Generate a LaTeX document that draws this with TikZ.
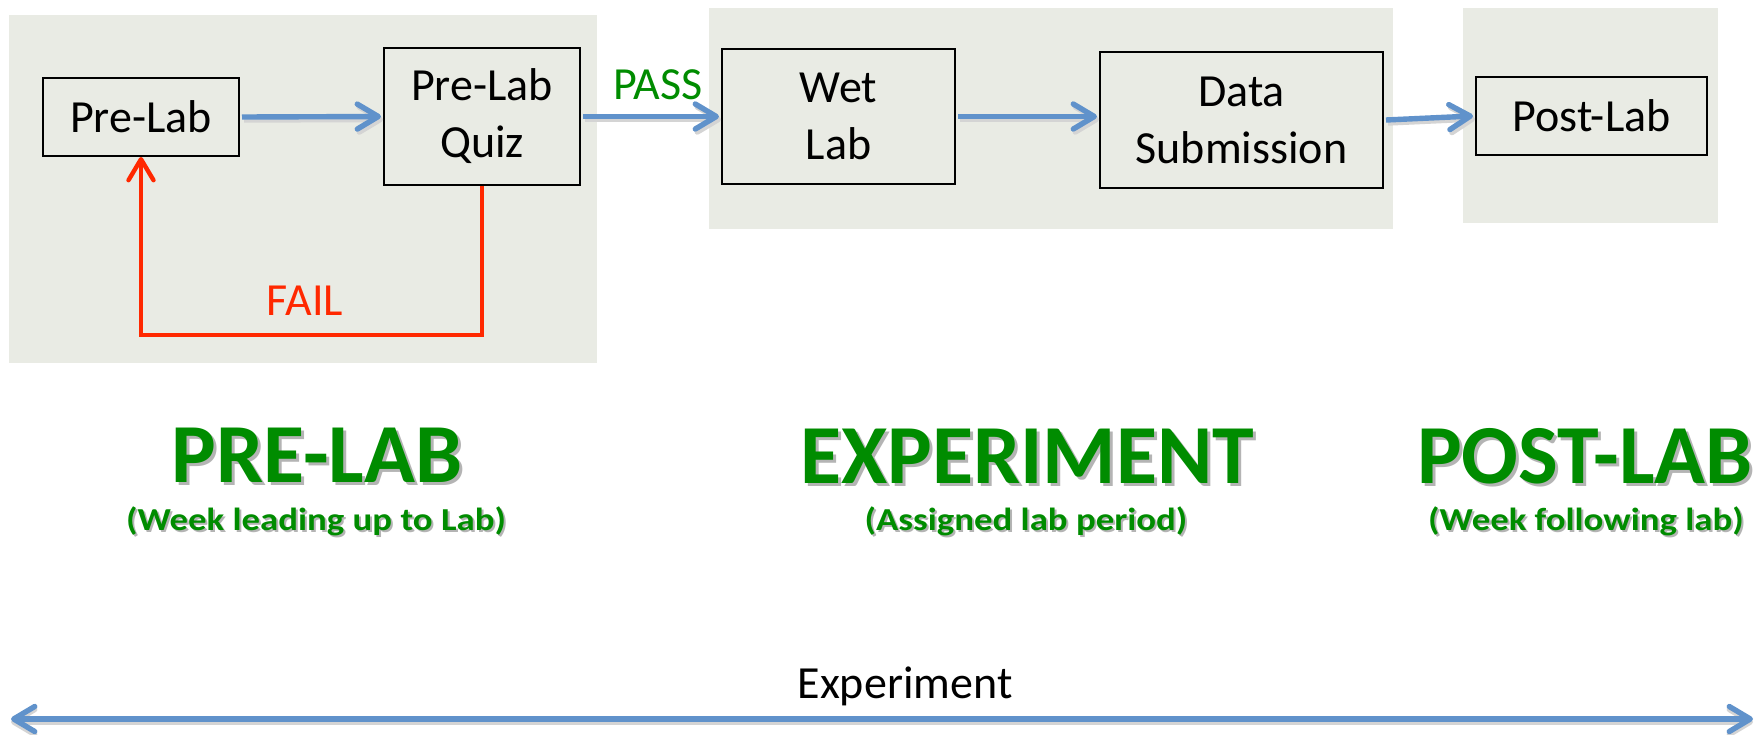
\documentclass[tikz,border=0pt]{standalone}
\usepackage{fontspec}
\setmainfont{Carlito}
\newfontfamily\subfont{Carlito}[FakeStretch=1.15]
\usetikzlibrary{arrows.meta}
\definecolor{bgbox}{RGB}{233,235,228}
\definecolor{flowblue}{RGB}{96,146,203}
\definecolor{failred}{RGB}{255,40,0}
\definecolor{headgreen}{RGB}{0,140,0}
\definecolor{shadowgray}{RGB}{180,180,180}
\definecolor{lineshadow}{RGB}{212,212,212}
\begin{document}
\begin{tikzpicture}[x=0.5pt,y=-0.5pt,
  stage/.style={fill=bgbox},
  stepbox/.style={draw=black,line width=1pt,fill=bgbox,align=center,inner sep=0pt,
    font=\fontsize{23}{28.5}\selectfont},
  tipbarb/.style={-{Straight Barb[length=10.5pt,width=12.5pt,line cap=round,line join=round]}},
  flow/.style={draw=flowblue,line width=2.7pt,tipbarb},
  flowshadow/.style={draw=lineshadow,line width=2.7pt,tipbarb,transform canvas={shift={(1pt,-1.5pt)}}},
  failflow/.style={draw=failred,line width=2.2pt,tipbarb,line join=miter},
  lbl/.style={font=\fontsize{23}{28.5}\selectfont,anchor=base,inner sep=0pt},
  heading/.style={font=\bfseries\fontsize{42}{50}\selectfont,anchor=base,inner sep=0pt,text=headgreen},
  headshadow/.style={font=\bfseries\fontsize{42}{50}\selectfont,anchor=base,inner sep=0pt,text=shadowgray},
  subhead/.style={font=\subfont\bfseries\fontsize{16}{20}\selectfont,anchor=base,inner sep=0pt,text=headgreen},
  subshadow/.style={font=\subfont\bfseries\fontsize{16}{20}\selectfont,anchor=base,inner sep=0pt,text=shadowgray}
]
\useasboundingbox (0,0) rectangle (1756,734);
\fill[white] (0,0) rectangle (1756,734);

% stage backgrounds
\fill[stage] (9,15) rectangle (597,363);
\fill[stage] (709,8) rectangle (1393,229);
\fill[stage] (1463,8) rectangle (1718,223);

% step boxes
\node[stepbox,minimum width=98pt,minimum height=39pt] (prelab) at (141,117) {Pre-Lab};
\node[stepbox,minimum width=98pt,minimum height=68.5pt] (quiz) at (482,116.5) {Pre-Lab\\Quiz};
\node[stepbox,minimum width=116.5pt,minimum height=67.5pt] (wet) at (838.5,116.5) {Wet\\Lab};
\node[stepbox,minimum width=141.5pt,minimum height=68pt] (data) at (1241.5,120) {Data\\Submission};
\node[stepbox,minimum width=115.5pt,minimum height=39pt] (post) at (1591.5,116) {Post-Lab};

% connector shadows
\draw[flowshadow] ([xshift=1pt]prelab.east) -- ([xshift=-1pt]quiz.west);
\draw[flowshadow] ([xshift=1pt]quiz.east) -- ([xshift=-1pt]wet.west);
\draw[flowshadow] ([xshift=1pt]wet.east) -- ([xshift=-1pt]wet.east -| data.west);
\draw[flowshadow] ([xshift=1pt]data.east) -- ([xshift=-1pt]post.west);

% connectors
\draw[flow] ([xshift=1pt]prelab.east) -- ([xshift=-1pt]quiz.west);
\draw[flow] ([xshift=1pt]quiz.east) -- ([xshift=-1pt]wet.west);
\draw[flow] ([xshift=1pt]wet.east) -- ([xshift=-1pt]wet.east -| data.west);
\draw[flow] ([xshift=1pt]data.east) -- ([xshift=-1pt]post.west);
\draw[failflow] (quiz.south) -- ++(0,149) -| (prelab.south);

% labels
\node[lbl,text=headgreen] (pass) at (658,99) {PASS};
\node[lbl,text=failred] (fail) at (305,315) {FAIL};

% stage headings
\node[headshadow] at (320,485) {PRE-LAB};
\node[heading] (hpre) at (317,482) {PRE-LAB};
\node[headshadow] at (1030,486) {EXPERIMENT};
\node[heading] (hexp) at (1027,483) {EXPERIMENT};
\node[headshadow] at (1588,486) {POST-LAB};
\node[heading] (hpost) at (1585,483) {POST-LAB};

\node[subshadow] at (318,532) {(Week leading up to Lab)};
\node[subhead] (spre) at (316,530) {(Week leading up to Lab)};
\node[subshadow] at (1028,532) {(Assigned lab period)};
\node[subhead] (sexp) at (1026,530) {(Assigned lab period)};
\node[subshadow] at (1588,532) {(Week following lab)};
\node[subhead] (spost) at (1586,530) {(Week following lab)};

% timeline
\coordinate (tl) at (11,719);
\coordinate (tr) at (1753,719);
\draw[draw=lineshadow,line width=2.7pt,transform canvas={shift={(0pt,-1.5pt)}},{Straight Barb[length=10.5pt,width=12.5pt,line cap=round,line join=round]}-{Straight Barb[length=10.5pt,width=12.5pt,line cap=round,line join=round]}] (tl) -- (tr);
\draw[draw=flowblue,line width=2.7pt,{Straight Barb[length=10.5pt,width=12.5pt,line cap=round,line join=round]}-{Straight Barb[length=10.5pt,width=12.5pt,line cap=round,line join=round]}] (tl) -- (tr);
\node[lbl] (exp) at (905,698) {Experiment};
\end{tikzpicture}
\end{document}
